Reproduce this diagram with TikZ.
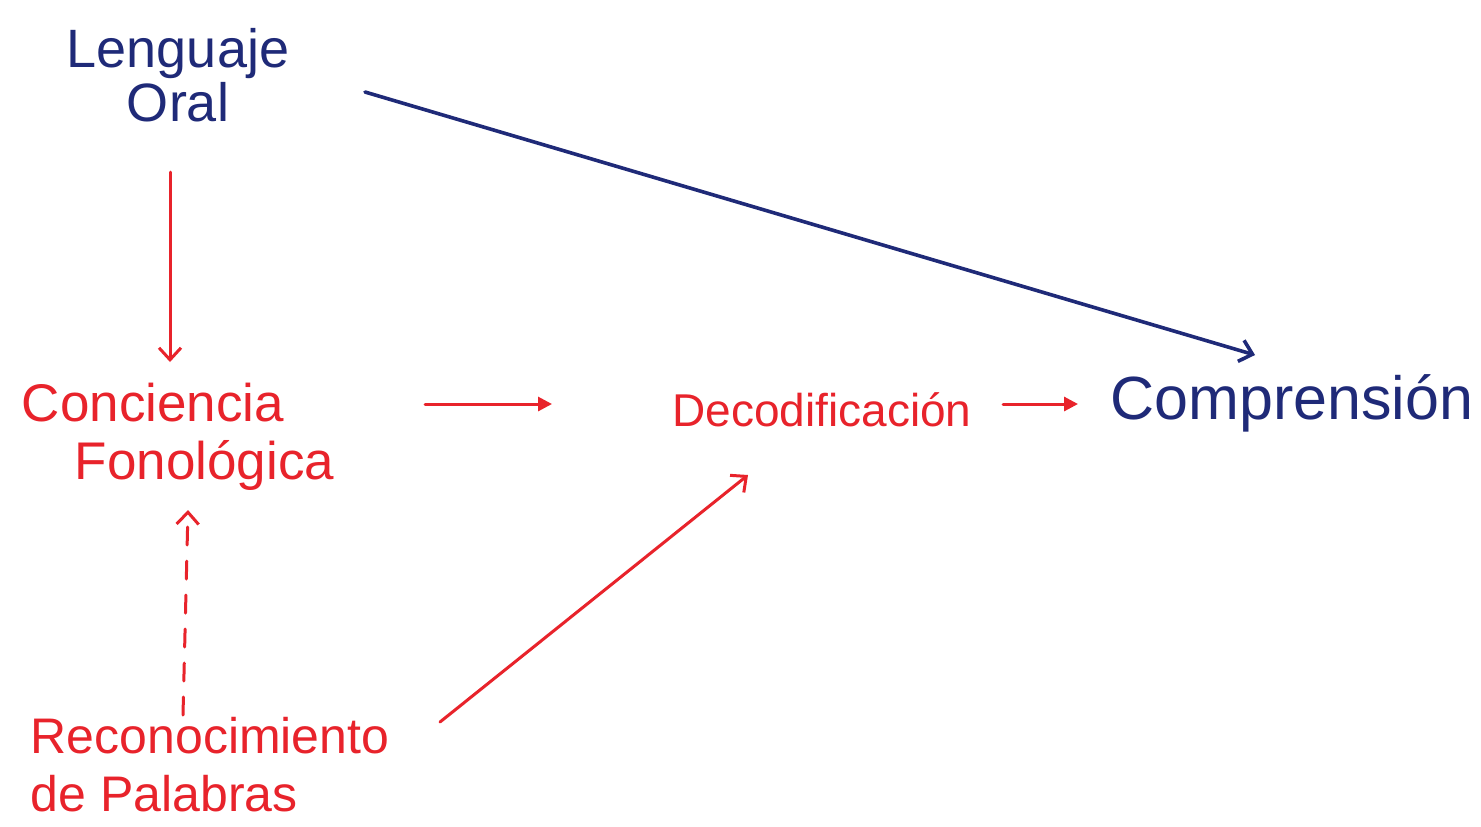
\documentclass[tikz,border=0pt]{standalone}
\usepackage{fontspec}
\setmainfont{Liberation Sans}
\usetikzlibrary{arrows.meta,calc}
\definecolor{inkred}{HTML}{E8232B}
\definecolor{inkblue}{HTML}{1F2A78}
\begin{document}
\begin{tikzpicture}[x=0.5pt,y=-0.5pt,
  redtxt/.style={text=inkred,inner sep=2pt,font=\fontsize{24}{29}\selectfont},
  bluetxt/.style={text=inkblue,inner sep=2pt,font=\fontsize{27}{27}\selectfont},
  redline/.style={draw=inkred,line width=1.5pt,line cap=round},
  blueline/.style={draw=inkblue,line width=1.8pt,line cap=round},
  opentip/.style={-{Straight Barb[length=6pt,width=11pt]}},
  filledtip/.style={-{Triangle[length=7pt,width=7pt]}},
  dashline/.style={dash pattern=on 9pt off 8pt}
]
\useasboundingbox[fill=white] (0,0) rectangle (1481,826);

\node[bluetxt,align=center] (lo) at (178,75) {Lenguaje\\Oral};
\node[redtxt,align=left,font=\fontsize{26.5}{29}\selectfont] (cf) at (178,437) {Conciencia\\\hspace*{1.0em}Fonológica};
\node[redtxt,font=\fontsize{23}{28}\selectfont] (dec) at (822,410) {Decodificación};
\node[bluetxt,font=\fontsize{30.5}{36}\selectfont] (comp) at (1292,403) {Comprensión};
\node[redtxt,align=left,font=\fontsize{25}{29}\selectfont] (rp) at (210,765) {Reconocimiento\\de Palabras};

% connectors
\draw[redline,opentip] ($(lo.center)+(-8,97)$) -- ($(cf.center)+(-8,-75)$);
\draw[redline,filledtip] ($(cf.center)+(247,-33)$) -- ($(dec.center)+(-270,-6)$);
\draw[redline,filledtip] ($(dec.center)+(181,-6)$) -- ($(comp.center)+(-214,1)$);
\draw[blueline,opentip] ($(lo.center)+(187,17)$) -- ($(comp.center)+(-37,-48)$);
\draw[redline,dashline,opentip] ($(rp.center)+(-27,-50)$) -- ($(cf.center)+(10,73)$);
\draw[redline,opentip] ($(rp.center)+(230,-43)$) -- ($(dec.center)+(-74,65)$);
\end{tikzpicture}
\end{document}
